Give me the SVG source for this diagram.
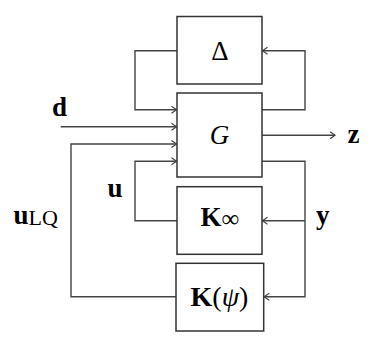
<svg xmlns="http://www.w3.org/2000/svg" width="388" height="349" viewBox="0 0 388 349">
<style>
.box{fill:#fff;stroke:#333;stroke-width:1.5}
.ln{fill:none;stroke:#444;stroke-width:1.4}
.t{font-family:"Liberation Serif",serif;fill:#000}
.b{font-weight:bold}
</style>
<defs>
<marker id="ah" markerUnits="userSpaceOnUse" markerWidth="10" markerHeight="10" refX="7" refY="5" orient="auto" viewBox="0 0 10 10">
<path d="M2,1.5 L7,5 L2,8.5" fill="none" stroke="#444" stroke-width="1.2"/>
</marker>
</defs>
<rect width="388" height="349" fill="#fff"/>
<g id="connectors">
<path class="ln" d="M177,50.7 H135 V109.7 H176.5" marker-end="url(#ah)"/>
<path class="ln" d="M60.7,126.7 H176.5" marker-end="url(#ah)"/>
<path class="ln" d="M176,296.7 H71 V144 H176.5" marker-end="url(#ah)"/>
<path class="ln" d="M177,220.7 H135 V161.3 H176.5" marker-end="url(#ah)"/>
<path class="ln" d="M262,109.7 H305 V50.7 H262.5" marker-end="url(#ah)"/>
<path class="ln" d="M262,135.3 H335" marker-end="url(#ah)"/>
<path class="ln" d="M262,161.3 H305 V296.7 H264.2" marker-end="url(#ah)"/>
<path class="ln" d="M305,220.7 H262.5" marker-end="url(#ah)"/>
</g>
<g id="delta">
<rect class="box" x="177" y="16.5" width="85" height="67.5"/>
<text class="t" x="220" y="59.5" font-size="27" text-anchor="middle">Δ</text>
</g>
<g id="G">
<rect class="box" x="177" y="93" width="85" height="84"/>
<text class="t" x="219.5" y="144.3" font-size="27" font-style="italic" text-anchor="middle">G</text>
</g>
<g id="Kinf">
<rect class="box" x="177" y="186.7" width="85" height="67.6"/>
<text class="t" x="200.5" y="226" font-size="27"><tspan class="b">K</tspan><tspan font-size="25" dy="1">∞</tspan></text>
</g>
<g id="Kpsi">
<rect class="box" x="176" y="263.3" width="87.7" height="67.7"/>
<text class="t" x="219.5" y="305.5" font-size="28" text-anchor="middle"><tspan class="b">K</tspan>(<tspan font-style="italic">ψ</tspan>)</text>
</g>
<g id="labels">
<text class="t b" x="52" y="116" font-size="27">d</text>
<text class="t b" x="347.5" y="143.3" font-size="27">z</text>
<text class="t b" x="107.5" y="197" font-size="27">u</text>
<text class="t" x="13.5" y="224" font-size="27"><tspan class="b">u</tspan><tspan font-size="22" dy="1">LQ</tspan></text>
<text class="t b" x="316" y="224" font-size="27">y</text>
</g>
</svg>
